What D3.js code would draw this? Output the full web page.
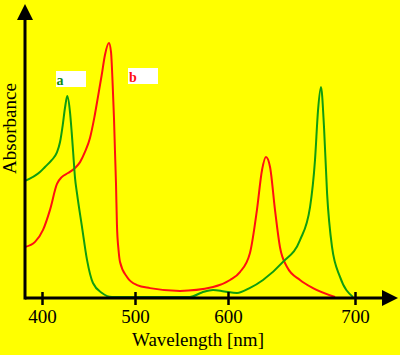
<!DOCTYPE html>
<html>
<head>
<meta charset="utf-8">
<script src="https://cdn.jsdelivr.net/npm/d3@7"></script>
<style>
html,body{margin:0;padding:0;background:#ffff00;}
svg{display:block;}
</style>
</head>
<body>
<svg id="chart" width="400" height="355"></svg>
<script>
// ---- data ----
const tickValues = [400, 500, 600, 700];
const tickLabels = ["400", "500", "600", "700"];
const xLabel = "Wavelength [nm]";
const yLabel = "Absorbance";
const seriesNames = ["a", "b"];

// series a (green): wavelength [nm], absorbance (relative)
const aWave = [381.7, 397.8, 403.2, 410.4, 415.8, 419.4, 422.3, 424.7, 427.2, 430.1, 431.9, 433.7, 435.5, 437.6, 443.0, 448.4, 454.8, 464.5, 475.3, 559.1, 572, 583.9, 596, 607.1, 617, 627.6, 643.3, 656.7, 664.6, 668.5, 670.9, 673.2, 675.6, 678.0, 681.9, 688.2, 698.4];
const aAbs  = [0.457, 0.492, 0.512, 0.539, 0.567, 0.610, 0.677, 0.744, 0.791, 0.728, 0.650, 0.559, 0.469, 0.409, 0.276, 0.146, 0.055, 0.016, 0.0, 0.0, 0.018, 0.028, 0.022, 0.016, 0.035, 0.067, 0.138, 0.224, 0.354, 0.539, 0.736, 0.827, 0.669, 0.409, 0.197, 0.079, 0.0];

// series b (red)
const bWave = [381.7, 392.5, 401.1, 408.6, 416.1, 421.2, 428.0, 435.5, 440.9, 446.2, 451.6, 456.2, 460.5, 464.2, 467.7, 472.0, 474.2, 476.0, 477.4, 478.5, 479.6, 480.6, 482.3, 483.9, 491.4, 502.2, 516.1, 548.4, 583.9, 601.6, 609.4, 617.3, 622.8, 626.8, 629.9, 633.1, 637.0, 640.9, 646.5, 656.7, 666.9, 684.3];
const bAbs  = [0.197, 0.217, 0.264, 0.343, 0.445, 0.472, 0.488, 0.508, 0.531, 0.571, 0.626, 0.705, 0.795, 0.874, 0.953, 1.0, 0.965, 0.835, 0.705, 0.571, 0.441, 0.283, 0.185, 0.138, 0.079, 0.047, 0.035, 0.024, 0.039, 0.067, 0.098, 0.173, 0.343, 0.5, 0.551, 0.512, 0.343, 0.197, 0.118, 0.067, 0.035, 0.0];

// ---- drawing ----
const svg = d3.select("#chart");
svg.append("rect").attr("width", 400).attr("height", 355).attr("fill", "#ffff00");

const x = d3.scaleLinear().domain([381.7, 400, 500, 600, 700, 734]).range([25, 42, 135, 228, 355, 398]);
const y = d3.scaleLinear().domain([0, 1]).range([297, 43]);

const font = "'Liberation Serif', 'Times New Roman', serif";

const line = d3.line().x(d => x(d[0])).y(d => y(d[1])).curve(d3.curveMonotoneX);

const aData = aWave.map((w, i) => [w, aAbs[i]]);
const bData = bWave.map((w, i) => [w, bAbs[i]]);

svg.append("path").datum(bData).attr("d", line)
  .attr("fill", "none").attr("stroke", "#ff1010").attr("stroke-width", 2);
svg.append("path").datum(aData).attr("d", line)
  .attr("fill", "none").attr("stroke", "#109c10").attr("stroke-width", 2);

// axes
const x0 = 25, yAxis = 298;
svg.append("line").attr("x1", x0).attr("x2", 384).attr("y1", yAxis).attr("y2", yAxis)
  .attr("stroke", "#000").attr("stroke-width", 3);
svg.append("line").attr("x1", x0).attr("x2", x0).attr("y1", yAxis + 1.5).attr("y2", 17)
  .attr("stroke", "#000").attr("stroke-width", 3);
svg.append("path").attr("d", `M398,${yAxis} L382,${yAxis - 8} L382,${yAxis + 8} Z`).attr("fill", "#000");
svg.append("path").attr("d", `M${x0},4 L${x0 - 8},20 L${x0 + 8},20 Z`).attr("fill", "#000");

const xAxis = d3.axisBottom(x).tickValues(tickValues)
  .tickFormat((d, i) => tickLabels[i]).tickSize(7).tickPadding(0);
const gx = svg.append("g").attr("transform", `translate(0,${yAxis})`).call(xAxis);
gx.select(".domain").remove();
gx.selectAll(".tick line").attr("y1", -6).attr("stroke", "#000").attr("stroke-width", 2.5);
gx.selectAll(".tick text").attr("y", 25).attr("dy", 0)
  .attr("font-family", font).attr("font-size", 19).attr("fill", "#000");

svg.append("text").attr("x", 198).attr("y", 346).attr("text-anchor", "middle")
  .attr("font-family", font).attr("font-size", 19).attr("fill", "#000").text(xLabel);
svg.append("text").attr("transform", "translate(15.5,128.5) rotate(-90)").attr("text-anchor", "middle")
  .attr("font-family", font).attr("font-size", 19).attr("fill", "#000").text(yLabel);

// labels a/b
const labelBoxes = [
  {name: seriesNames[0], bx: 56, by: 71, color: "#108a10", tx: 56.5, ty: 84.5},
  {name: seriesNames[1], bx: 128, by: 68, color: "#ff1010", tx: 129, ty: 81.5}
];
labelBoxes.forEach(l => {
  svg.append("rect").attr("x", l.bx).attr("y", l.by).attr("width", 30).attr("height", 16).attr("fill", "#fff");
  svg.append("text").attr("x", l.tx).attr("y", l.ty).attr("font-family", font)
    .attr("font-weight", "bold").attr("font-size", 14).attr("fill", l.color).text(l.name);
});
</script>
</body>
</html>
